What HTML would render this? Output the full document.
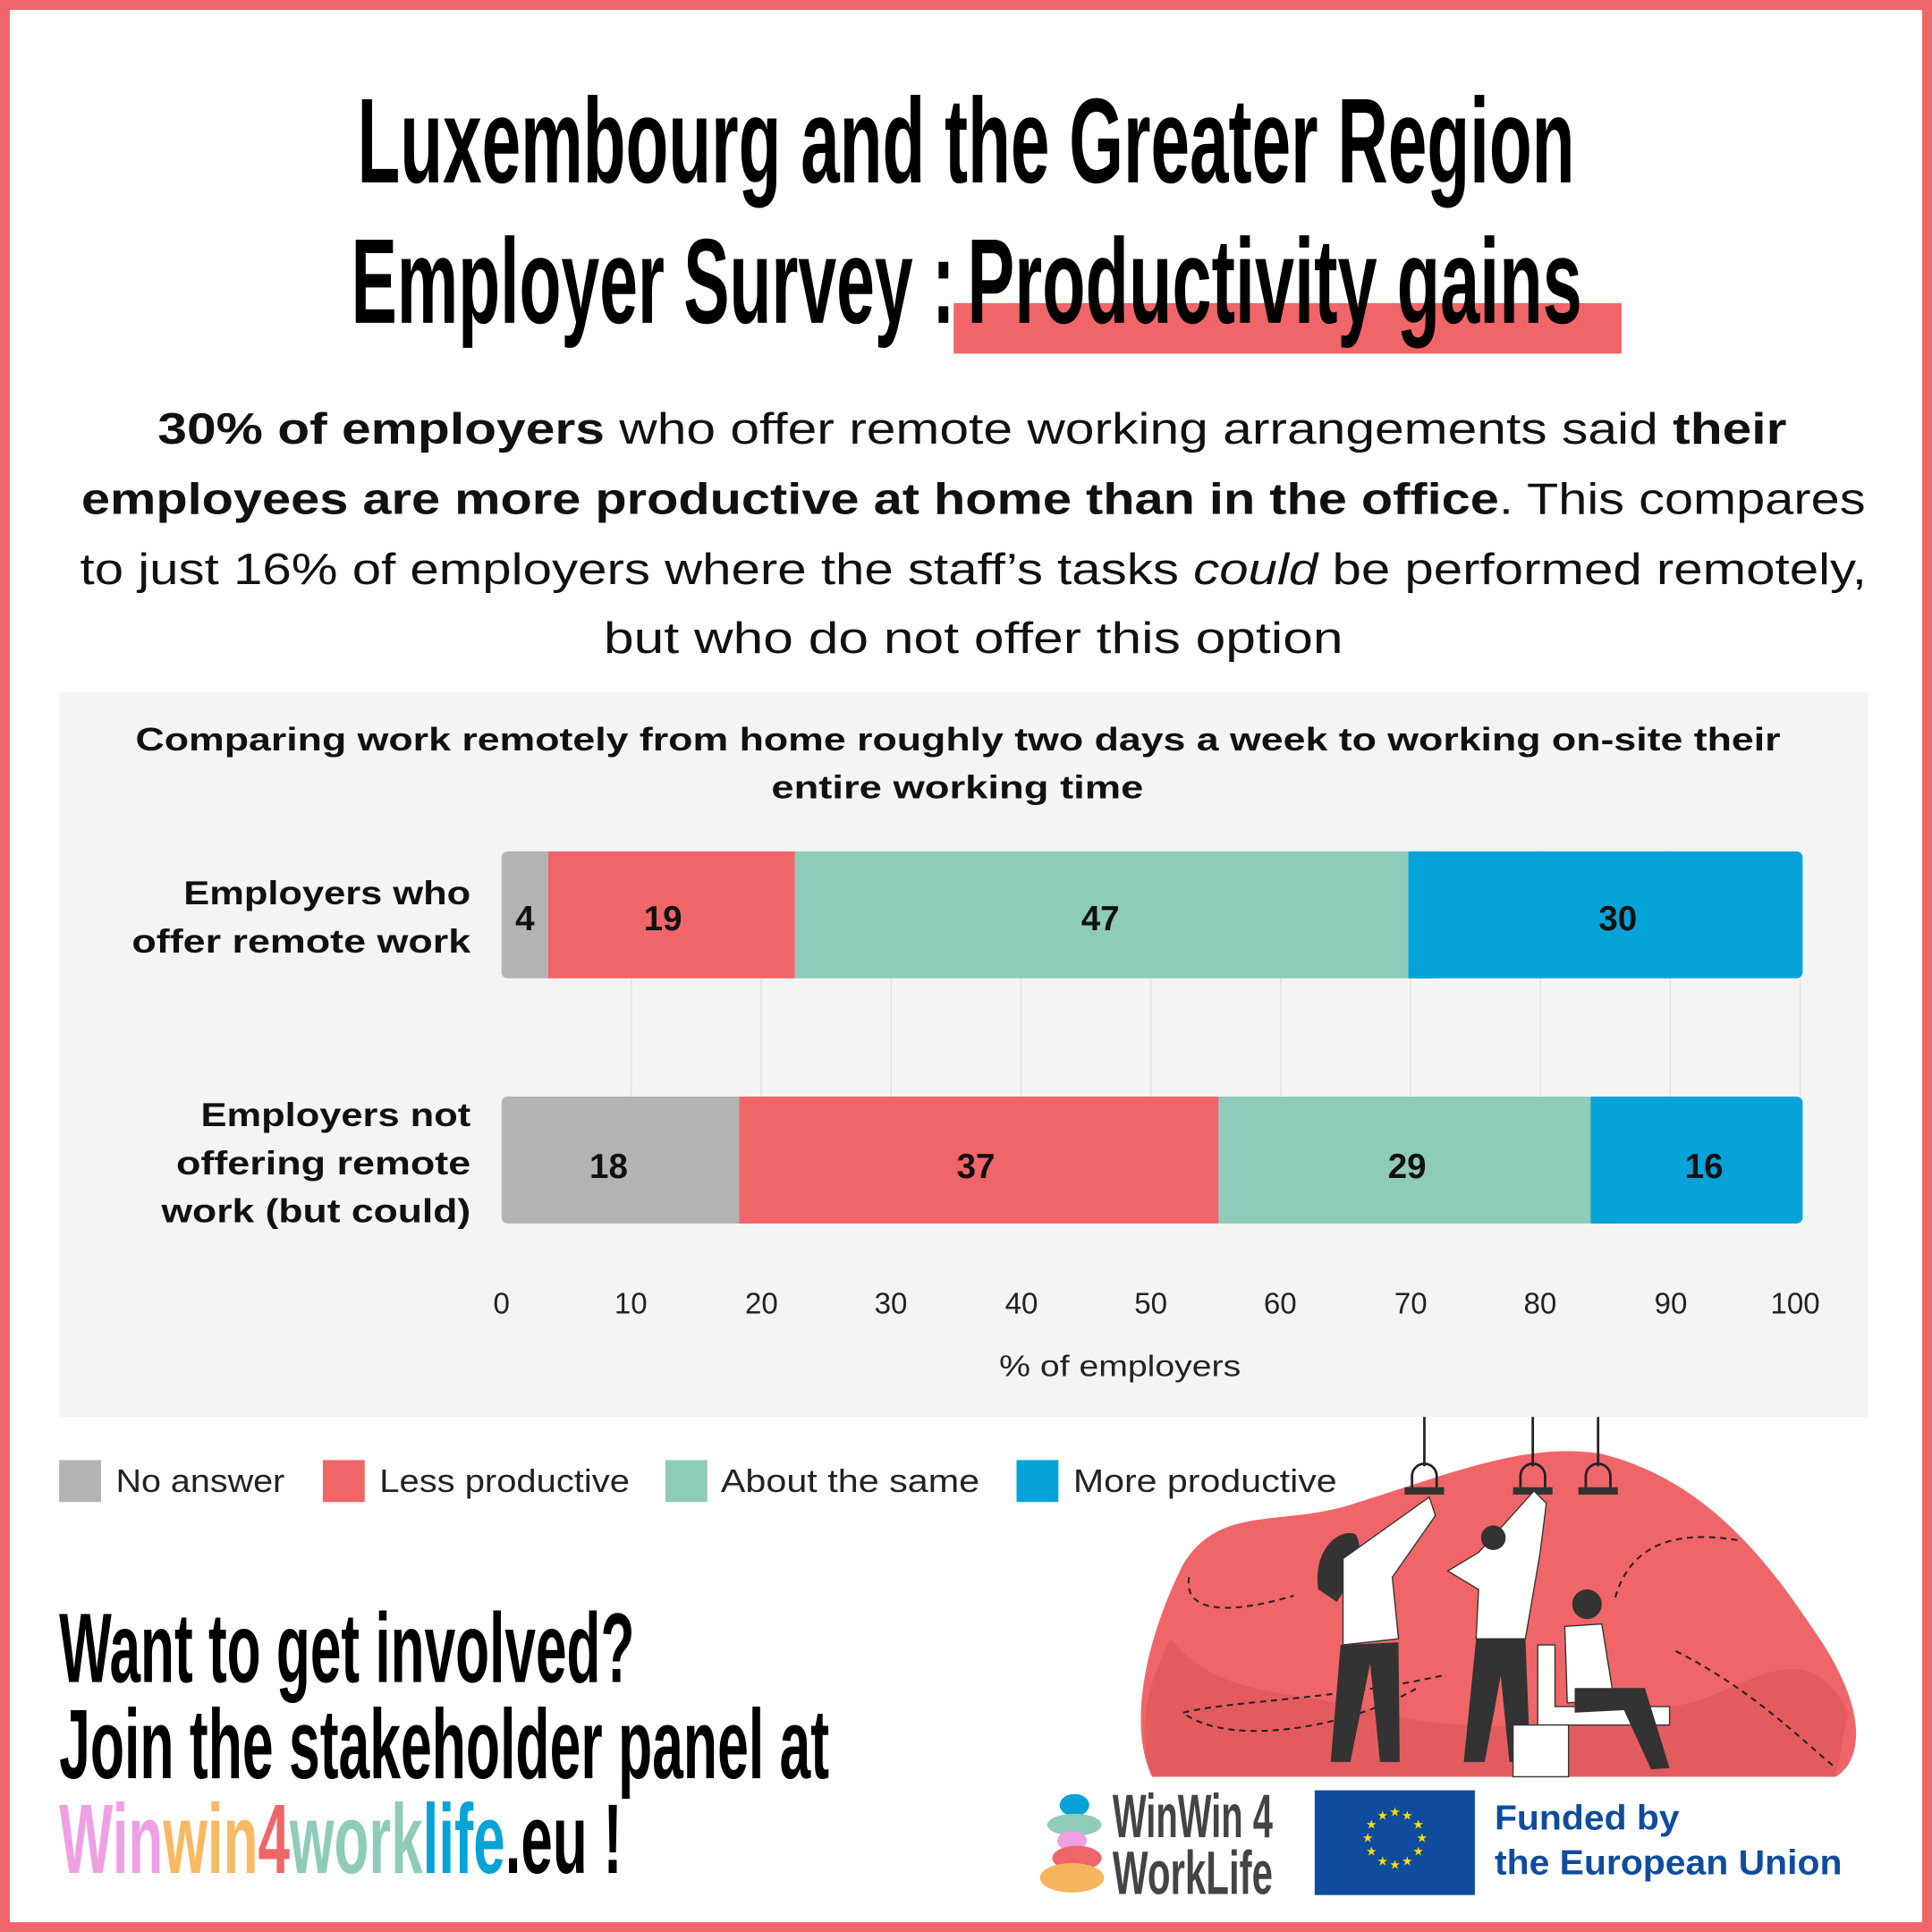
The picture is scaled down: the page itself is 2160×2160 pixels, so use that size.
<!DOCTYPE html>
<html><head><meta charset="utf-8"><style>html,body{margin:0;padding:0;background:#fff}svg{display:block}</style></head>
<body>
<svg width="2160" height="2160" viewBox="0 0 1568 1568" xmlns="http://www.w3.org/2000/svg" font-family="'Liberation Sans', sans-serif">
<rect x="0" y="0" width="1568" height="1568" fill="#f06568"/>
<rect x="8" y="8" width="1552" height="1552" fill="#fff"/>
<!-- Title -->
<text x="290" y="148" font-size="98" font-weight="bold" textLength="988" lengthAdjust="spacingAndGlyphs">Luxembourg and the Greater Region</text>
<rect x="774" y="246" width="542" height="41" fill="#f06568"/>
<text x="285" y="262" font-size="98" font-weight="bold" textLength="490" lengthAdjust="spacingAndGlyphs">Employer Survey :</text>
<text x="785" y="262" font-size="98" font-weight="bold" textLength="499" lengthAdjust="spacingAndGlyphs">Productivity gains</text>
<!-- paragraph -->
<g font-size="36" fill="#111">
<text x="128" y="360" textLength="1322" lengthAdjust="spacingAndGlyphs"><tspan font-weight="bold">30% of employers</tspan> who offer remote working arrangements said <tspan font-weight="bold">their</tspan></text>
<text x="66" y="417" textLength="1448" lengthAdjust="spacingAndGlyphs"><tspan font-weight="bold">employees are more productive at home than in the office</tspan>. This compares</text>
<text x="65" y="474" textLength="1450" lengthAdjust="spacingAndGlyphs">to just 16% of employers where the staff’s tasks <tspan font-style="italic">could</tspan> be performed remotely,</text>
<text x="490" y="530" textLength="600" lengthAdjust="spacingAndGlyphs">but who do not offer this option</text>
</g>
<!-- panel -->
<rect x="48" y="562" width="1468" height="588" fill="#f4f4f4"/>
<g font-size="26" font-weight="bold" fill="#111">
<text x="110" y="609" textLength="1335" lengthAdjust="spacingAndGlyphs">Comparing work remotely from home roughly two days a week to working on-site their</text>
<text x="626" y="648" textLength="302" lengthAdjust="spacingAndGlyphs">entire working time</text>
</g>
<g stroke="#e2e2e2" stroke-width="1">
<line x1="512.4" y1="691" x2="512.4" y2="993"/><line x1="617.8" y1="691" x2="617.8" y2="993"/><line x1="723.2" y1="691" x2="723.2" y2="993"/><line x1="828.6" y1="691" x2="828.6" y2="993"/><line x1="934" y1="691" x2="934" y2="993"/><line x1="1039.4" y1="691" x2="1039.4" y2="993"/><line x1="1144.8" y1="691" x2="1144.8" y2="993"/><line x1="1250.2" y1="691" x2="1250.2" y2="993"/><line x1="1355.6" y1="691" x2="1355.6" y2="993"/><line x1="1461" y1="691" x2="1461" y2="993"/>
</g>
<!-- bars -->
<rect x="407" y="691" width="44" height="103" rx="5" fill="#b3b3b3"/>
<rect x="445" y="691" width="200" height="103" fill="#f06568"/>
<rect x="645" y="691" width="498" height="103" fill="#8fcbb9"/>
<rect x="1143" y="691" width="320" height="103" rx="5" fill="#06a3d9"/>
<rect x="1143" y="691" width="20" height="103" fill="#06a3d9"/>
<rect x="407" y="890" width="200" height="103" rx="5" fill="#b3b3b3"/>
<rect x="600" y="890" width="389" height="103" fill="#f06568"/>
<rect x="989" y="890" width="302" height="103" fill="#8fcbb9"/>
<rect x="1291" y="890" width="172" height="103" rx="5" fill="#06a3d9"/>
<rect x="1291" y="890" width="20" height="103" fill="#06a3d9"/>
<g font-size="28" font-weight="bold" text-anchor="middle" fill="#111">
<text x="426" y="755">4</text><text x="538" y="755">19</text><text x="893" y="755">47</text><text x="1313" y="755">30</text>
<text x="494" y="956">18</text><text x="792" y="956">37</text><text x="1142" y="956">29</text><text x="1383" y="956">16</text>
</g>
<g font-size="27" font-weight="bold" fill="#111">
<text x="149" y="734" textLength="233" lengthAdjust="spacingAndGlyphs">Employers who</text>
<text x="107" y="773" textLength="275" lengthAdjust="spacingAndGlyphs">offer remote work</text>
<text x="163" y="914" textLength="219" lengthAdjust="spacingAndGlyphs">Employers not</text>
<text x="143" y="953" textLength="239" lengthAdjust="spacingAndGlyphs">offering remote</text>
<text x="131" y="992" textLength="251" lengthAdjust="spacingAndGlyphs">work (but could)</text>
</g>
<g font-size="24" text-anchor="middle" fill="#222">
<text x="407" y="1066">0</text><text x="512" y="1066">10</text><text x="618" y="1066">20</text><text x="723" y="1066">30</text><text x="829" y="1066">40</text><text x="934" y="1066">50</text><text x="1039" y="1066">60</text><text x="1145" y="1066">70</text><text x="1250" y="1066">80</text><text x="1356" y="1066">90</text><text x="1457" y="1066">100</text>
</g>
<text x="811" y="1117" font-size="24" fill="#222" textLength="196" lengthAdjust="spacingAndGlyphs">% of employers</text>
<!-- legend -->
<g font-size="26" fill="#222">
<rect x="48" y="1185" width="34" height="34" fill="#b3b3b3"/><text x="94" y="1211" textLength="137" lengthAdjust="spacingAndGlyphs">No answer</text>
<rect x="262" y="1185" width="34" height="34" fill="#f06568"/><text x="308" y="1211" textLength="203" lengthAdjust="spacingAndGlyphs">Less productive</text>
<rect x="540" y="1185" width="34" height="34" fill="#8fcbb9"/><text x="585" y="1211" textLength="210" lengthAdjust="spacingAndGlyphs">About the same</text>
<rect x="825" y="1185" width="34" height="34" fill="#06a3d9"/><text x="871" y="1211" textLength="214" lengthAdjust="spacingAndGlyphs">More productive</text>
</g>
<!-- illustration -->
<path d="M935 1442 C915 1400 930 1330 960 1270 C990 1220 1040 1240 1100 1220 C1180 1195 1240 1170 1300 1180 C1380 1200 1430 1260 1470 1320 C1520 1390 1510 1430 1490 1442 Z" fill="#f06568"/>
<path d="M935 1442 C920 1400 935 1360 950 1330 C990 1380 1050 1370 1120 1390 C1200 1410 1300 1400 1380 1380 C1430 1360 1470 1330 1500 1390 L1490 1442 Z" fill="#e45b5e"/>
<g stroke="#222" stroke-width="2" fill="none">
<line x1="1156" y1="1150" x2="1156" y2="1190"/><line x1="1244" y1="1150" x2="1244" y2="1190"/><line x1="1297" y1="1150" x2="1297" y2="1190"/>
<path d="M1146 1210 v-12 a10 10 0 0 1 20 0 v12"/><path d="M1234 1210 v-12 a10 10 0 0 1 20 0 v12"/><path d="M1287 1210 v-12 a10 10 0 0 1 20 0 v12"/>
<path d="M1410 1250 C1350 1240 1320 1260 1310 1300" stroke-dasharray="5 4" stroke-width="1.5"/>
<path d="M965 1280 C960 1310 1000 1310 1050 1295" stroke-dasharray="5 4" stroke-width="1.5"/>
<path d="M1170 1360 C1080 1380 1000 1380 960 1390 C1000 1420 1100 1400 1150 1370" stroke-dasharray="5 4" stroke-width="1.5"/>
<path d="M1360 1340 C1420 1370 1460 1410 1490 1435" stroke-dasharray="5 4" stroke-width="1.5"/>
</g>
<g fill="#333">
<rect x="1140" y="1207" width="32" height="6"/><rect x="1228" y="1207" width="32" height="6"/><rect x="1281" y="1207" width="32" height="6"/>
</g>
<!-- people -->
<path d="M1070 1290 C1065 1260 1085 1240 1100 1245 C1110 1260 1095 1285 1085 1300 Z" fill="#333"/>
<path d="M1090 1265 L1160 1215 L1165 1230 L1130 1280 L1135 1330 L1090 1335 Z" fill="#fff" stroke="#333"/>
<path d="M1088 1335 L1080 1430 L1096 1430 L1112 1350 L1120 1430 L1136 1430 L1135 1333 Z" fill="#333"/>
<path d="M1175 1275 L1200 1260 L1245 1210 L1255 1220 L1250 1260 L1238 1330 L1198 1330 L1200 1290 Z" fill="#fff" stroke="#333"/>
<path d="M1198 1330 L1188 1430 L1205 1430 L1218 1360 L1225 1430 L1242 1430 L1238 1330 Z" fill="#333"/>
<circle cx="1212" cy="1248" r="10" fill="#333"/><circle cx="1288" cy="1302" r="12" fill="#333"/>
<path d="M1248 1335 L1248 1400 L1355 1400 L1355 1385 L1262 1385 L1262 1335 Z" fill="#fff" stroke="#333"/>
<path d="M1270 1320 L1300 1318 L1310 1380 L1272 1382 Z" fill="#fff" stroke="#333"/>
<path d="M1278 1370 L1335 1370 L1355 1435 L1340 1436 L1318 1388 L1278 1390 Z" fill="#333"/>
<rect x="1228" y="1400" width="45" height="42" fill="#fff" stroke="#333"/>
<!-- logos -->
<ellipse cx="872" cy="1465" rx="12" ry="9" fill="#06a3d9"/>
<ellipse cx="872" cy="1481" rx="22" ry="9" fill="#8fcbb9"/>
<ellipse cx="870" cy="1494" rx="12" ry="8" fill="#ef9fe2"/>
<ellipse cx="874" cy="1508" rx="20" ry="10" fill="#f06568"/>
<ellipse cx="870" cy="1524" rx="26" ry="12" fill="#f6b55d"/>
<text x="903" y="1491" font-size="50" font-weight="bold" fill="#444" textLength="130" lengthAdjust="spacingAndGlyphs">WinWin 4</text>
<text x="903" y="1537" font-size="50" font-weight="bold" fill="#444" textLength="130" lengthAdjust="spacingAndGlyphs">WorkLife</text>
<rect x="1067" y="1453" width="130" height="85" fill="#0f4c9e"/>
<g fill="#ffdd00" font-size="10" text-anchor="middle">
<text x="1132" y="1474">★</text><text x="1142" y="1477">★</text><text x="1151" y="1484">★</text><text x="1154" y="1495">★</text><text x="1151" y="1506">★</text><text x="1142" y="1514">★</text><text x="1132" y="1517">★</text><text x="1122" y="1514">★</text><text x="1113" y="1506">★</text><text x="1110" y="1495">★</text><text x="1113" y="1484">★</text><text x="1122" y="1477">★</text>
</g>
<g font-size="28" font-weight="bold" fill="#0f4c9e">
<text x="1213" y="1485" textLength="150" lengthAdjust="spacingAndGlyphs">Funded by</text>
<text x="1213" y="1521" textLength="282" lengthAdjust="spacingAndGlyphs">the European Union</text>
</g>
<!-- bottom CTA -->
<g font-size="80" font-weight="bold">
<text x="48" y="1365" textLength="467" lengthAdjust="spacingAndGlyphs">Want to get involved?</text>
<text x="48" y="1443" textLength="625" lengthAdjust="spacingAndGlyphs">Join the stakeholder panel at</text>
<text x="48" y="1520" textLength="457" lengthAdjust="spacingAndGlyphs"><tspan fill="#efa0e4">Win</tspan><tspan fill="#f8b962">win</tspan><tspan fill="#f06568">4</tspan><tspan fill="#8fcbb9">work</tspan><tspan fill="#06a3d9">life</tspan><tspan fill="#000">.eu !</tspan></text>
</g>
</svg>
</body></html>
